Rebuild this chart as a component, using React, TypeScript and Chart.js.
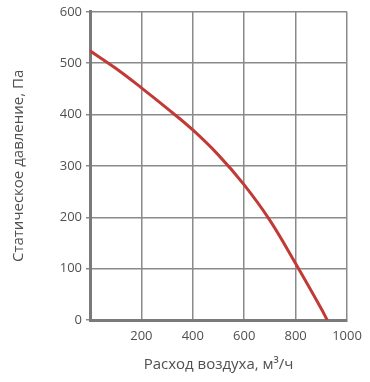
import React, { useEffect, useRef } from "react";
import { Chart, registerables } from "chart.js";

Chart.register(...registerables);

const flow = [0, 100, 200, 300, 400, 500, 600, 700, 800, 900, 923];
const pressure = [524, 490, 452, 412, 370, 321, 263, 194, 110, 22, 0];
const xTitle = "Расход воздуха, м³/ч";
const yTitle = "Статическое давление, Па";

export default function App() {
  const ref = useRef<HTMLCanvasElement | null>(null);
  useEffect(() => {
    if (!ref.current) return;
    const textColor = "#505050";
    const gridColor = "#8a8a8a";
    const chart = new Chart(ref.current, {
      type: "line",
      data: {
        datasets: [
          {
            data: flow.map((x, i) => ({ x, y: pressure[i] })),
            borderColor: "#c13a36",
            borderWidth: 3,
            pointRadius: 0,
            fill: false,
            tension: 0.4,
          },
        ],
      },
      options: {
        responsive: false,
        animation: false,
        layout: { padding: { top: 9, right: 23, left: 0, bottom: 0 } },
        plugins: { legend: { display: false }, tooltip: { enabled: false } },
        scales: {
          x: {
            type: "linear",
            min: 0,
            max: 1000,
            afterFit: (s: any) => {
              s.height = 62;
            },
            ticks: {
              stepSize: 200,
              color: textColor,
              padding: 8,
              font: { family: "Open Sans", size: 13 },
              callback: (v: any) => (v === 0 ? "" : String(v)),
            },
            grid: { color: gridColor, lineWidth: 1.5, drawTicks: false },
            border: { color: "#7a7a7a", width: 3 },
            title: {
              display: true,
              text: xTitle,
              color: textColor,
              font: { family: "Open Sans", size: 15 },
              padding: { top: 0, bottom: 8 },
            },
          },
          y: {
            min: 0,
            max: 600,
            afterFit: (s: any) => {
              s.width = 90;
            },
            ticks: {
              stepSize: 100,
              color: textColor,
              padding: 4,
              font: { family: "Open Sans", size: 13 },
            },
            grid: { color: gridColor, lineWidth: 1.5, tickLength: 4 },
            border: { color: "#7a7a7a", width: 3 },
            title: {
              display: true,
              text: yTitle,
              color: textColor,
              font: { family: "Open Sans", size: 15 },
              padding: { top: 10, bottom: 0 },
            },
          },
        },
      },
    });
    return () => chart.destroy();
  }, []);
  return (
    <div style={{ position: "absolute", left: 0, top: 0, width: 370, height: 382, background: "#fff" }}>
      <canvas ref={ref} width={370} height={382} style={{ display: "block" }} />
    </div>
  );
}
